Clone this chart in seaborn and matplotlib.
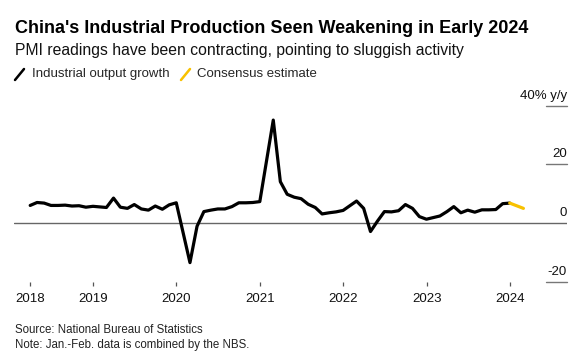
import pandas as pd
import numpy as np
import matplotlib
matplotlib.use("Agg")
import matplotlib.pyplot as plt
import matplotlib.transforms as mtransforms
from matplotlib.lines import Line2D
import seaborn as sns

# Industrial output growth, % y/y (Jan.-Feb. combined, plotted at end of Feb.)
ip_2018 = [6.0, 7.0, 6.8, 6.0, 6.0, 6.1, 5.8, 5.9, 5.4, 5.7]  # Mar-Dec
ip_2019 = [5.3, 8.5, 5.4, 5.0, 6.3, 4.8, 4.4, 5.8, 4.7, 6.2, 6.9]
ip_2020 = [-13.5, -1.1, 3.9, 4.4, 4.8, 4.8, 5.6, 6.9, 6.9, 7.0, 7.3]
ip_2021 = [35.1, 14.1, 9.8, 8.8, 8.3, 6.4, 5.3, 3.1, 3.5, 3.8, 4.3]
ip_2022 = [7.5, 5.0, -2.9, 0.7, 3.9, 3.8, 4.2, 6.3, 5.0, 2.2, 1.3]
ip_2023 = [2.4, 3.9, 5.6, 3.5, 4.4, 3.7, 4.5, 4.5, 4.6, 6.6, 6.8]

# consensus estimate for Jan.-Feb. 2024, drawn from the last actual reading
consensus_dates = ["2023-12-31", "2024-02-29"]
consensus_vals = [6.8, 5.0]

year_labels = ["2018", "2019", "2020", "2021", "2022", "2023", "2024"]
y_ticks = [-20, 0, 20, 40]
y_labels = ["-20", "0", "20", "40% y/y"]

BLACK = "#000000"
YELLOW = "#F8C100"

# build monthly frame
dates = list(pd.date_range("2018-03-01", periods=len(ip_2018), freq="ME"))
vals = list(ip_2018)
for yr, series in zip(range(2019, 2024), [ip_2019, ip_2020, ip_2021, ip_2022, ip_2023]):
    dates += list(pd.date_range(f"{yr}-02-01", periods=len(series), freq="ME"))
    vals += series
actual = pd.DataFrame({"date": dates, "value": vals})
consensus = pd.DataFrame({"date": pd.to_datetime(consensus_dates), "value": consensus_vals})

sns.set_style("white")
plt.rcParams["font.family"] = ["Liberation Sans", "DejaVu Sans"]

W, H = 581, 353
fig = plt.figure(figsize=(W / 100, H / 100), dpi=100)
ax = fig.add_axes([14 / W, 1 - 281.7 / H, 553 / W, 176 / H])

sns.lineplot(data=actual, x="date", y="value", color=BLACK, lw=2.3, ax=ax, zorder=3)
sns.lineplot(data=consensus, x="date", y="value", color=YELLOW, lw=2.3, ax=ax, zorder=3)

ax.set_xlim(pd.Timestamp("2018-01-19"), pd.Timestamp("2024-09-07"))
ax.set_ylim(-20, 40)

# first tick sits at the start of the data, the rest at Jan. 1
xt = [actual["date"].iloc[0]] + [pd.Timestamp(f"{y}-01-01") for y in year_labels[1:]]
ax.set_xticks(xt)
ax.set_xticklabels(year_labels)
ax.tick_params(axis="x", length=3.2, width=0.9, color="#555555", pad=5,
               labelsize=9.5, labelcolor="#111111", direction="out", bottom=True)
ax.set_yticks([])
ax.set_xlabel("")
ax.set_ylabel("")
for s in ax.spines.values():
    s.set_visible(False)

# zero line and short right-hand gridlines with labels above
ax.axhline(0, color="#666666", lw=1, zorder=1)
x0 = (546 - 14) / 553
for v, lab in zip(y_ticks, y_labels):
    if v != 0:
        ax.axhline(v, xmin=x0, xmax=1, color="#777777", lw=1, clip_on=False)
    tr = mtransforms.blended_transform_factory(ax.transAxes, ax.transData)
    tr = mtransforms.offset_copy(tr, fig=fig, y=5, units="points")
    ax.text(1.0, v, lab, transform=tr, ha="right", va="baseline",
            fontsize=9.5, color="#111111")

# header
fig.text(15 / W, 1 - 32.7 / H, "China's Industrial Production Seen Weakening in Early 2024",
         fontsize=13, fontweight="bold", color="#000000", va="baseline")
fig.text(15 / W, 1 - 55 / H, "PMI readings have been contracting, pointing to sluggish activity",
         fontsize=11.3, color="#111111", va="baseline")

# legend
fig.add_artist(Line2D([15 / W, 24 / W], [1 - 80 / H, 1 - 69 / H], color=BLACK, lw=1.8))
fig.text(31.5 / W, 1 - 76.7 / H, "Industrial output growth", fontsize=9.5, va="baseline")
fig.add_artist(Line2D([181 / W, 190 / W], [1 - 80 / H, 1 - 69 / H], color=YELLOW, lw=1.8))
fig.text(197 / W, 1 - 76.7 / H, "Consensus estimate", fontsize=9.5, va="baseline")

# footer
fig.text(15 / W, 1 - 333 / H, "Source: National Bureau of Statistics",
         fontsize=8.3, color="#222222", va="baseline")
fig.text(15 / W, 1 - 348 / H, "Note: Jan.-Feb. data is combined by the NBS.",
         fontsize=8.3, color="#222222", va="baseline")

fig.savefig("out.png", dpi=100)
